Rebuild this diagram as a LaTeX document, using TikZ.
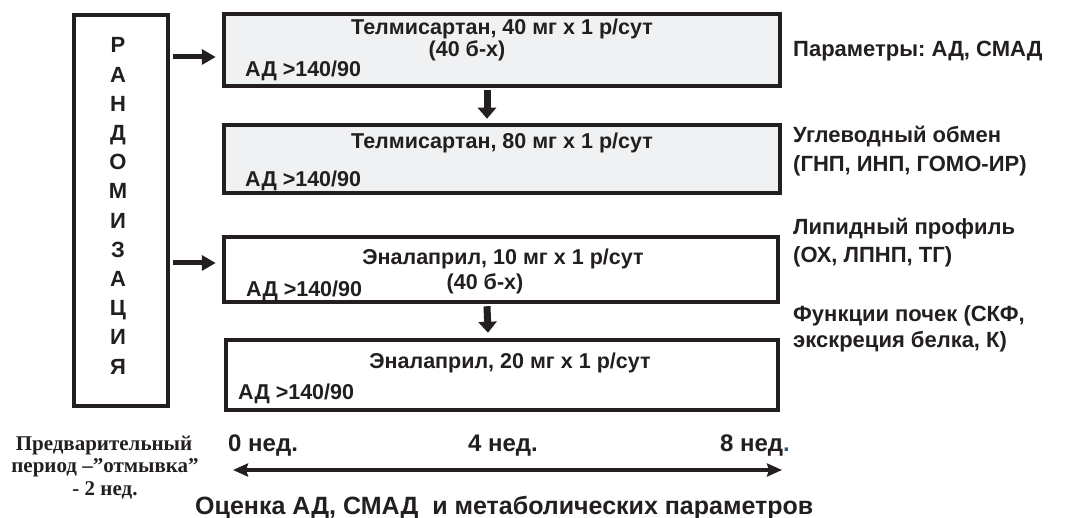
\documentclass[tikz,border=0pt]{standalone}
\usepackage{fontspec}
\setmainfont{Liberation Sans}
\newfontfamily\serifbold{Liberation Serif}
\usetikzlibrary{arrows.meta}
\frenchspacing
\definecolor{ink}{RGB}{35,31,32}
\definecolor{boxgray}{RGB}{240,241,243}
\definecolor{dotblue}{RGB}{60,85,115}
\tikzset{
  stagebox/.style={draw=ink, line width=4.5pt, inner sep=0pt},
  graybox/.style={stagebox, fill=boxgray},
  whitebox/.style={stagebox, fill=white},
  lbl/.style={inner sep=0pt, text=ink, font=\bfseries\fontsize{21.5}{25}\selectfont},
  sidelbl/.style={inner sep=0pt, text=ink, font=\bfseries\fontsize{22}{26}\selectfont, anchor=base west},
  letter/.style={inner sep=0pt, text=ink, font=\bfseries\fontsize{22}{26}\selectfont, anchor=base},
  weeklbl/.style={inner sep=0pt, text=ink, font=\bfseries\fontsize{24}{28}\selectfont},
  evallbl/.style={inner sep=0pt, text=ink, font=\bfseries\fontsize{25}{29}\selectfont},
  seriflbl/.style={inner sep=0pt, text=ink, font=\serifbold\bfseries\fontsize{21}{25}\selectfont, anchor=base},
  rarrow/.style={draw=ink, line width=5pt, -{Triangle[length=14pt,width=15pt]}},
  darrow/.style={draw=ink, line width=7pt, -{Triangle[length=11pt,width=18pt]}},
  timeline/.style={draw=ink, line width=4pt, {Stealth[length=15pt,width=13pt,inset=2pt]}-{Stealth[length=15pt,width=13pt,inset=2pt]}}
}
\begin{document}
\begin{tikzpicture}[x=1pt,y=-1pt]
\useasboundingbox (0,0) rectangle (1066,518);

% randomisation box
\node[whitebox, minimum width=94pt, minimum height=391pt] (rand) at (121,210.5) {};
\foreach \l [count=\i from 0] in {Р,А,Н,Д,О,М,И,З,А,Ц,И,Я}
  \node[letter] (L\i) at (118,53+29.2*\i) {\l};

% stage boxes
\node[graybox, minimum width=556pt, minimum height=72pt] (b1) at (502,50) {};
\node[graybox, minimum width=556pt, minimum height=68pt] (b2) at (502,159) {};
\node[whitebox, minimum width=554pt, minimum height=65pt] (b3) at (501,269.5) {};
\node[whitebox, minimum width=552pt, minimum height=70pt] (b4) at (502,375) {};

% box texts
\node[lbl, anchor=base] (t1) at (502,35) {Телмисартан, 40 мг х 1 р/сут};
\node[lbl, anchor=base] (t1b) at (467,57) {(40 б-х)};
\node[lbl, anchor=base west] (a1) at (245,77) {АД >140/90};
\node[lbl, anchor=base] (t2) at (502,149) {Телмисартан, 80 мг х 1 р/сут};
\node[lbl, anchor=base west] (a2) at (245,187) {АД >140/90};
\node[lbl, anchor=base] (t3) at (503,265) {Эналаприл, 10 мг х 1 р/сут};
\node[lbl, anchor=base] (t3b) at (485,290) {(40 б-х)};
\node[lbl, anchor=base west] (a3) at (246,297) {АД >140/90};
\node[lbl, anchor=base] (t4) at (510,369) {Эналаприл, 20 мг х 1 р/сут};
\node[lbl, anchor=base west] (a4) at (238,400) {АД >140/90};

% arrows
\draw[rarrow] ([yshift=-7pt]b1.west -| rand.east) ++(3pt,0) -- ([yshift=-7pt,xshift=-6pt]b1.west);
\draw[rarrow] ([yshift=6.5pt]b3.west -| rand.east) ++(3pt,0) -- ([yshift=6.5pt,xshift=-6pt]b3.west);
\draw[darrow] ([xshift=-15pt,yshift=-2pt]b1.south) -- ([xshift=-15pt,yshift=4pt]b2.north);
\draw[darrow] ([xshift=-14pt,yshift=-2pt]b3.south) -- ([xshift=-14pt,yshift=5pt]b4.north);

% side labels
\node[sidelbl] (p1) at (793,57) {Параметры: АД, СМАД};
\node[sidelbl] (p2) at (793,143) {Углеводный обмен};
\node[sidelbl] (p3) at (793,172) {(ГНП, ИНП, ГОМО-ИР)};
\node[sidelbl] (p4) at (793,235) {Липидный профиль};
\node[sidelbl] (p5) at (793,263) {(ОХ, ЛПНП, ТГ)};
\node[sidelbl] (p6) at (793,322) {Функции почек (СКФ,};
\node[sidelbl] (p7) at (793,348) {экскреция белка, К)};

% bottom
\node[seriflbl] (s1) at (104,450) {Предварительный};
\node[seriflbl] (s2) at (105,472) {период –”отмывка”};
\node[seriflbl] (s3) at (105,495) {- 2 нед.};

\node[weeklbl, anchor=base west] (w0) at (228,452) {0 нед.};
\node[weeklbl, anchor=base] (w4) at (503,452) {4 нед.};
\node[weeklbl, anchor=base east] (w8) at (790,452) {8 нед\textcolor{dotblue}{.}};

\coordinate (tl) at (233,470);
\coordinate (tr) at (782,470);
\draw[timeline] (tl) -- (tr);

\node[evallbl, anchor=base west] (ev) at (195,514) {Оценка АД, СМАД\ \ и метаболических параметров};
\end{tikzpicture}
\end{document}
